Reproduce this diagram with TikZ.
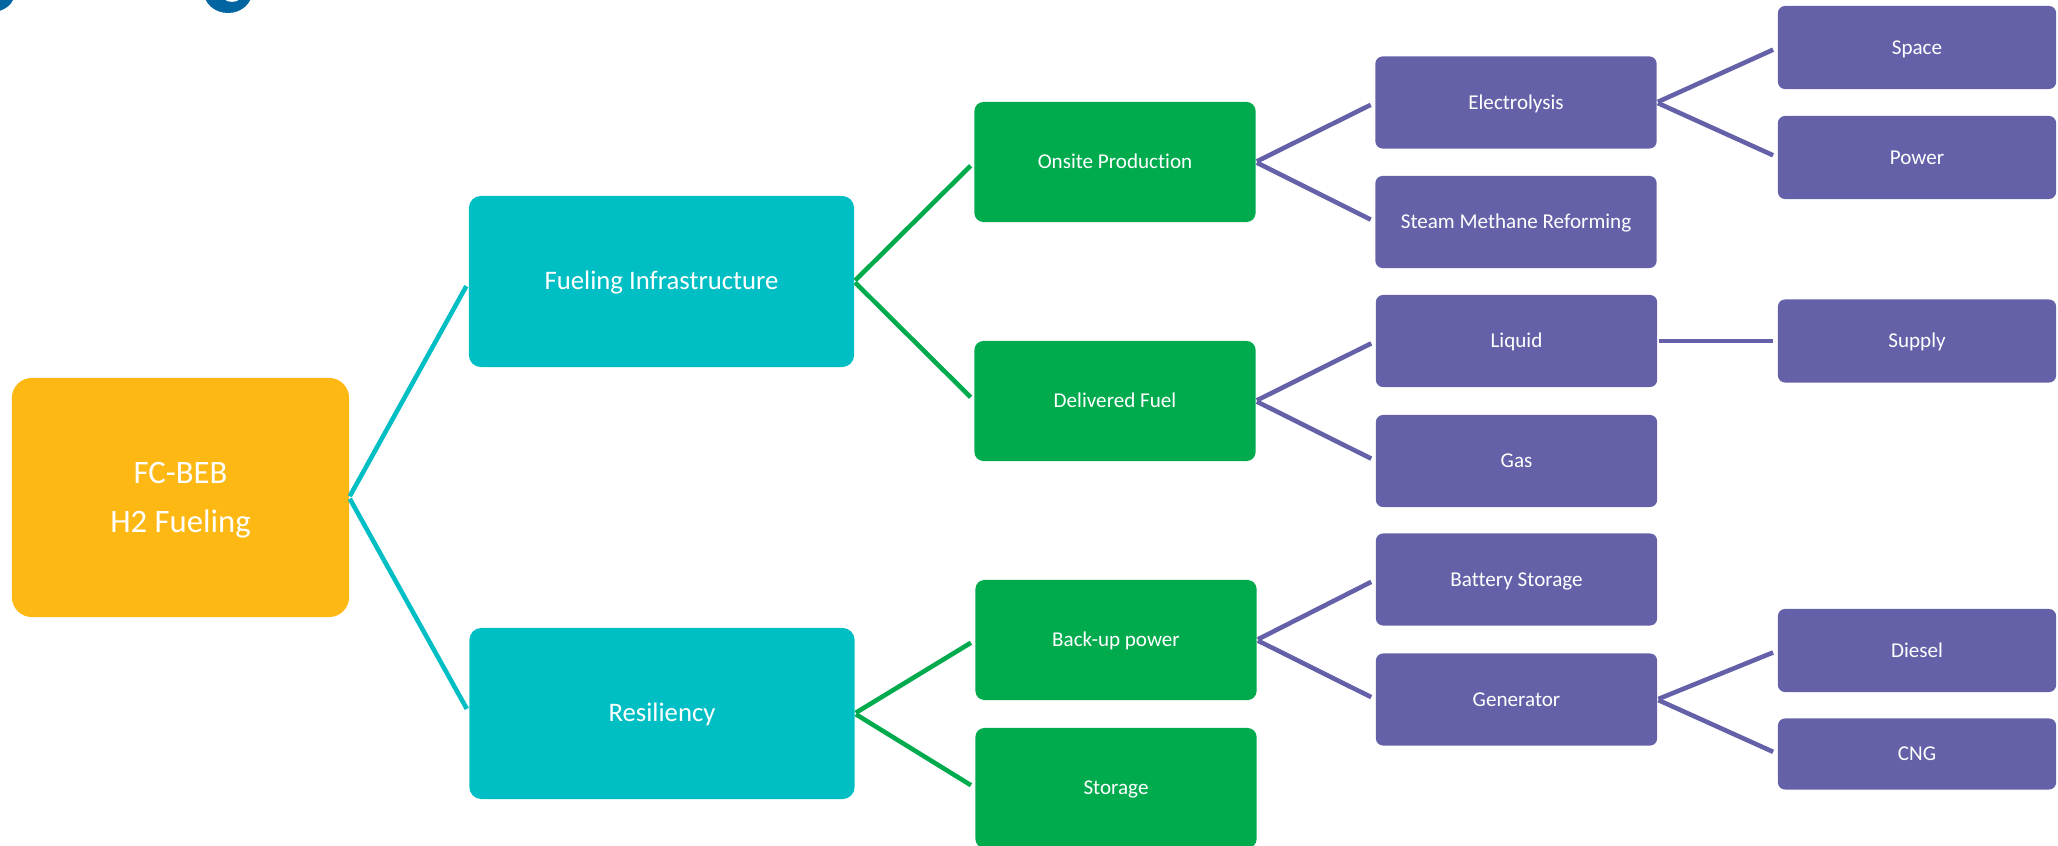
\documentclass[tikz,border=0pt]{standalone}
\usepackage{fontspec}
\setmainfont{Carlito}[Ligatures=NoCommon]
\usepackage{tikz}
\usetikzlibrary{positioning}

\definecolor{rootorange}{HTML}{FDB813}
\definecolor{infteal}{HTML}{00BFC4}
\definecolor{subgreen}{HTML}{00AB4E}
\definecolor{leafpurple}{HTML}{6461A9}
\definecolor{titleblue}{HTML}{0065A0}

\tikzset{
    box/.style={rectangle, inner sep=0pt, outer sep=0pt, text=white, align=center, text depth=0pt},
    rootbox/.style={box, fill=rootorange, rounded corners=0.2cm, minimum width=3.37cm, minimum height=2.39cm,
        font=\fontsize{9.3}{13.9}\selectfont},
    topicbox/.style={box, fill=infteal, rounded corners=0.12cm, minimum width=3.85cm, minimum height=1.71cm,
        text height=4.8pt, font=\fontsize{7.6}{9}\selectfont},
    greenbox/.style={box, fill=subgreen, rounded corners=0.09cm, minimum width=2.81cm, minimum height=1.2cm,
        text height=3.8pt, font=\fontsize{6}{7}\selectfont},
    purplebox/.style={box, fill=leafpurple, rounded corners=0.07cm, minimum width=2.81cm, minimum height=0.92cm,
        text height=3.8pt, font=\fontsize{6}{7}\selectfont},
    leafbox/.style={purplebox, minimum width=2.78cm, minimum height=0.83cm},
    branch/.style={line width=1.3pt, shorten <=0.4pt, shorten >=1.5pt},
    tealbranch/.style={branch, draw=infteal},
    greenbranch/.style={branch, draw=subgreen},
    purplebranch/.style={branch, draw=leafpurple}
}

\begin{document}
\begin{tikzpicture}[x=0.01cm, y=-0.01cm]
    \useasboundingbox (0,0) rectangle (2058,846);

    % cut-off title at the top edge
    \fill[titleblue, even odd rule] (-8,-8) ellipse [x radius=23, y radius=20] (-8,-8) ellipse [x radius=11, y radius=9];
    \fill[titleblue, even odd rule] (228,-8) ellipse [x radius=24, y radius=21] (232,-8) ellipse [x radius=12, y radius=10];

    \node[rootbox] (root) at (180.5, 497.5) {FC-BEB\\H2 Fueling};

    \node[topicbox] (fuelinf) at (661.5, 281.5) {Fueling Infrastructure};
    \node[topicbox] (resil) at (662, 713.5) {Resiliency};

    \node[greenbox] (onsite) at (1115, 162) {Onsite Production};
    \node[greenbox] (delivered) at (1115, 401) {Delivered Fuel};
    \node[greenbox] (backup) at (1116, 640) {Back-up power};
    \node[greenbox] (storage) at (1116, 788) {Storage};

    \node[purplebox] (electro) at (1516, 102.5) {Electrolysis};
    \node[purplebox] (smr) at (1516, 222) {Steam Methane Reforming};
    \node[purplebox] (liquid) at (1516.5, 341) {Liquid};
    \node[purplebox] (gas) at (1516.5, 461) {Gas};
    \node[purplebox] (battery) at (1516.5, 579.5) {Battery Storage};
    \node[purplebox] (generator) at (1516.5, 699.5) {Generator};

    \node[leafbox] (space) at (1917, 47.5) {Space};
    \node[leafbox] (power) at (1917, 157.5) {Power};
    \node[leafbox] (supply) at (1917, 341) {Supply};
    \node[leafbox] (diesel) at (1917, 650.5) {Diesel};
    \node[leafbox, minimum height=0.71cm] (cng) at (1917, 754) {CNG};

    \draw[tealbranch] (root.east) -- (fuelinf.west);
    \draw[tealbranch] (root.east) -- (resil.west);
    \draw[greenbranch] (fuelinf.east) -- (onsite.west);
    \draw[greenbranch] (fuelinf.east) -- (delivered.west);
    \draw[greenbranch] (resil.east) -- (backup.west);
    \draw[greenbranch] (resil.east) -- (storage.west);
    \draw[purplebranch] (onsite.east) -- (electro.west);
    \draw[purplebranch] (onsite.east) -- (smr.west);
    \draw[purplebranch] (delivered.east) -- (liquid.west);
    \draw[purplebranch] (delivered.east) -- (gas.west);
    \draw[purplebranch] (backup.east) -- (battery.west);
    \draw[purplebranch] (backup.east) -- (generator.west);
    \draw[purplebranch] (electro.east) -- (space.west);
    \draw[purplebranch] (electro.east) -- (power.west);
    \draw[purplebranch] (liquid.east) -- (supply.west);
    \draw[purplebranch] (generator.east) -- (diesel.west);
    \draw[purplebranch] (generator.east) -- (cng.west);
\end{tikzpicture}
\end{document}
